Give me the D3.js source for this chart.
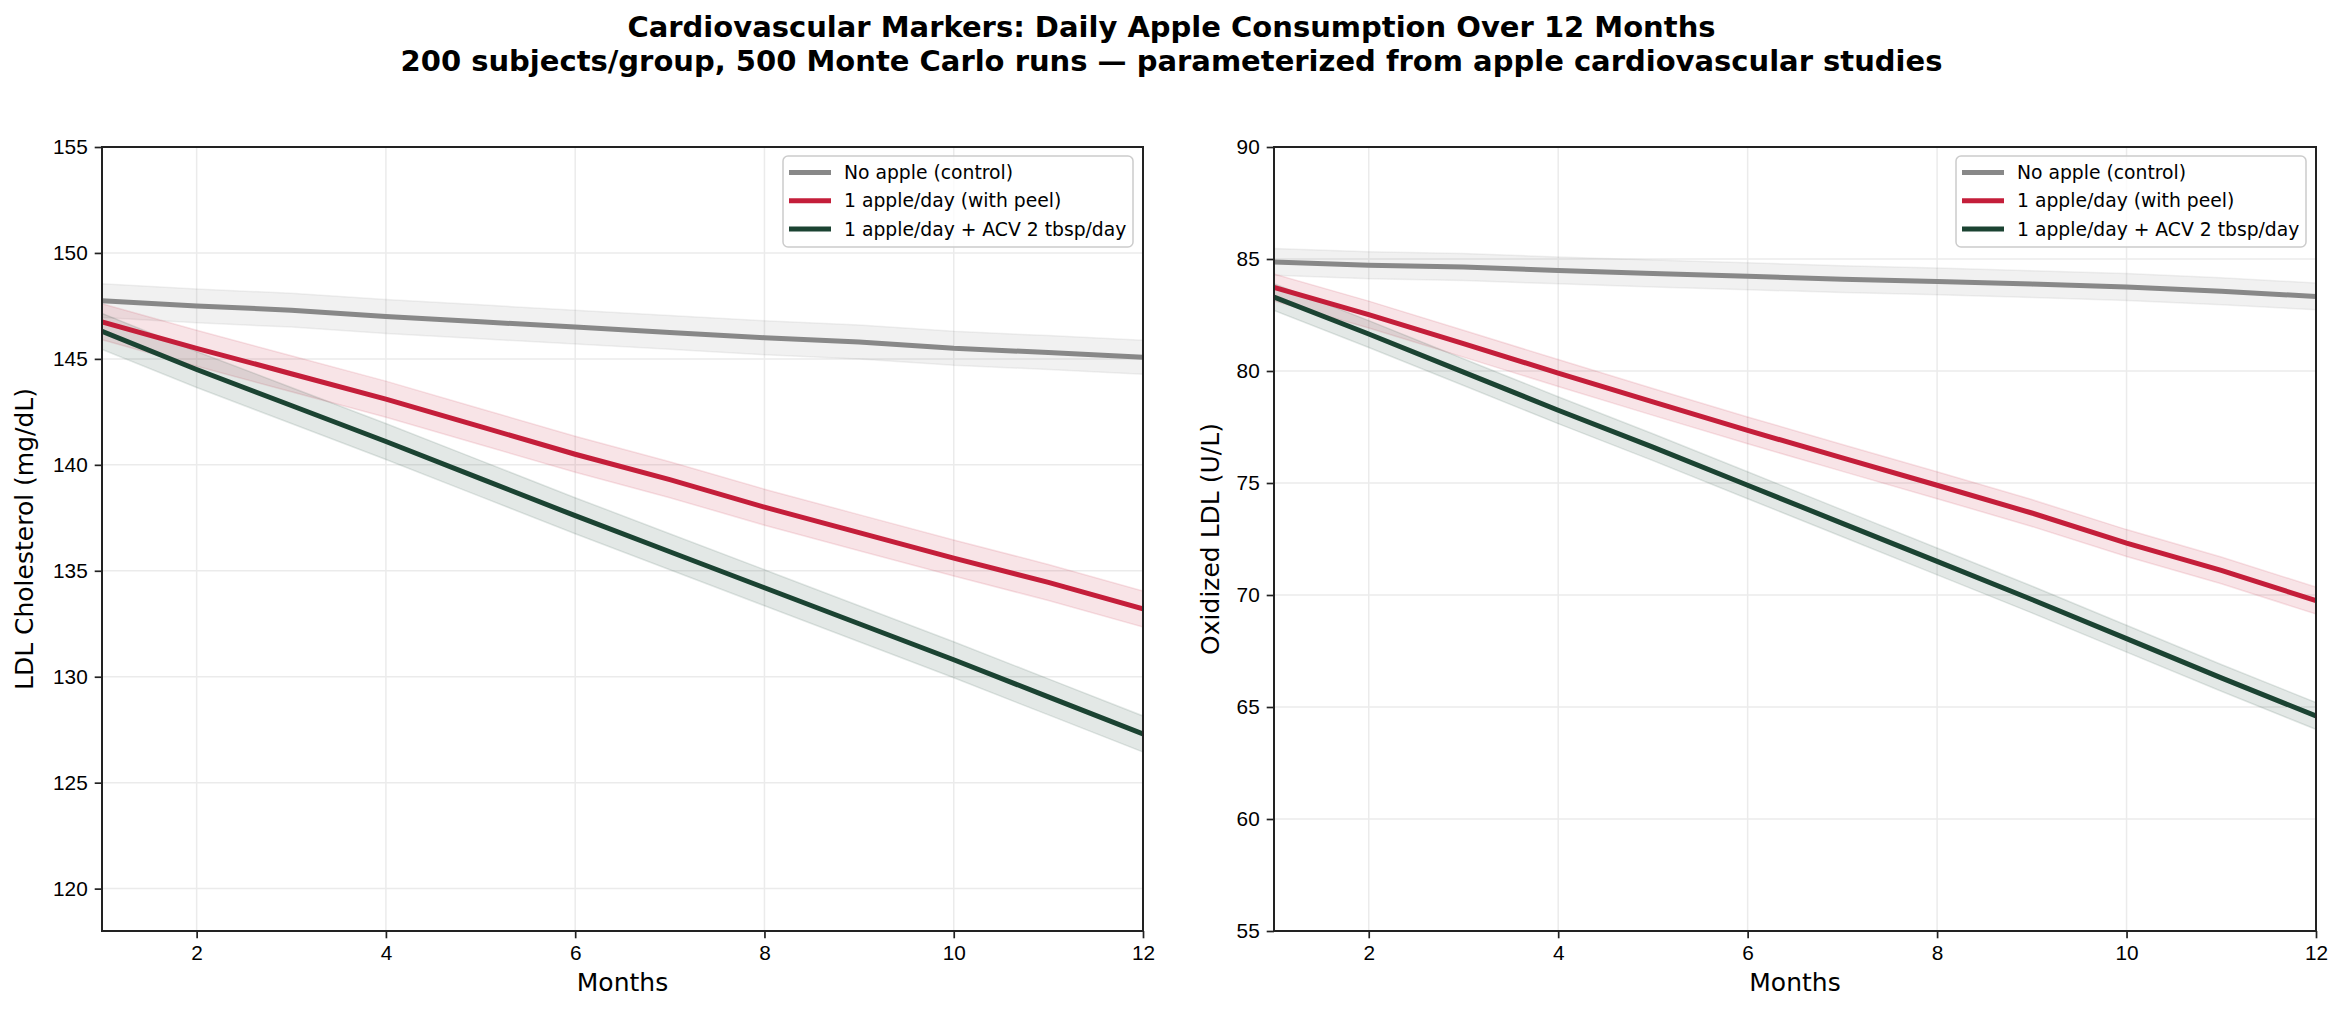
<!DOCTYPE html>
<html>
<head>
    <title>Cardiovascular Markers</title>
    <script src="https://d3js.org/d3.v7.min.js"></script>
    <style>
        body { margin: 0; background: #fff; }
        svg { font-family: 'DejaVu Sans', sans-serif; }
        .tick text { font-size: 20.8px; fill: #000; }
        .axis-label { font-size: 25px; fill: #000; }
        .title { font-size: 29px; font-weight: bold; fill: #000; }
        .legend-text { font-size: 18.75px; fill: #000; }
    </style>
</head>
<body>
<svg id="chart" width="2343" height="1013"></svg>

<script>
    // months of follow-up
    const months = [1, 2, 3, 4, 5, 6, 7, 8, 9, 10, 11, 12];

    const seriesNames = ["No apple (control)", "1 apple/day (with peel)", "1 apple/day + ACV 2 tbsp/day"];
    const seriesColors = ["#888888", "#c41e3a", "#1b4332"];

    // LDL cholesterol (mg/dL), mean and CI half-width per month
    const ldlControl = [147.75, 147.5, 147.3, 147.0, 146.75, 146.5, 146.25, 146.0, 145.8, 145.5, 145.3, 145.08];
    const ldlApple   = [146.75, 145.5, 144.3, 143.1, 141.8, 140.5, 139.3, 138.0, 136.8, 135.6, 134.45, 133.2];
    const ldlAcv     = [146.3, 144.5, 142.8, 141.1, 139.35, 137.6, 135.9, 134.2, 132.5, 130.8, 129.05, 127.3];
    const ldlControlCi = [0.8, 0.8, 0.8, 0.8, 0.8, 0.8, 0.8, 0.8, 0.8, 0.8, 0.8, 0.8];
    const ldlAppleCi   = [0.85, 0.85, 0.85, 0.85, 0.85, 0.85, 0.85, 0.85, 0.85, 0.85, 0.85, 0.85];
    const ldlAcvCi     = [0.85, 0.85, 0.85, 0.85, 0.85, 0.85, 0.85, 0.85, 0.85, 0.85, 0.85, 0.85];

    // Oxidized LDL (U/L)
    const oxControl = [84.87, 84.72, 84.64, 84.49, 84.35, 84.23, 84.1, 84.0, 83.88, 83.75, 83.56, 83.33];
    const oxApple   = [83.73, 82.52, 81.22, 79.91, 78.62, 77.35, 76.12, 74.9, 73.66, 72.32, 71.1, 69.75];
    const oxAcv     = [83.3, 81.65, 79.95, 78.25, 76.6, 74.9, 73.2, 71.5, 69.8, 68.05, 66.3, 64.6];
    const oxControlCi = [0.6, 0.6, 0.6, 0.6, 0.6, 0.6, 0.6, 0.6, 0.6, 0.6, 0.6, 0.6];
    const oxAppleCi   = [0.6, 0.6, 0.6, 0.6, 0.6, 0.6, 0.6, 0.6, 0.6, 0.6, 0.6, 0.6];
    const oxAcvCi     = [0.6, 0.6, 0.6, 0.6, 0.6, 0.6, 0.6, 0.6, 0.6, 0.6, 0.6, 0.6];

    const xTicks = [2, 4, 6, 8, 10, 12];
    const ldlTicks = [120, 125, 130, 135, 140, 145, 150, 155];
    const oxTicks = [55, 60, 65, 70, 75, 80, 85, 90];

    const svg = d3.select("#chart");

    svg.append("text").attr("class", "title")
        .attr("x", 1171.5).attr("y", 37).attr("text-anchor", "middle")
        .text("Cardiovascular Markers: Daily Apple Consumption Over 12 Months");
    svg.append("text").attr("class", "title")
        .attr("x", 1171.5).attr("y", 71).attr("text-anchor", "middle")
        .text("200 subjects/group, 500 Monte Carlo runs \u2014 parameterized from apple cardiovascular studies");

    function drawPanel(id, left, right, yDomain, yTicks, yLabel, labelX, means, cis) {
        const top = 147, bottom = 931;
        const x = d3.scaleLinear().domain([1, 12]).range([left, right]);
        const y = d3.scaleLinear().domain(yDomain).range([bottom, top]);
        const g = svg.append("g");

        g.append("clipPath").attr("id", "clip-" + id)
            .append("rect").attr("x", left).attr("y", top)
            .attr("width", right - left).attr("height", bottom - top);

        // grid
        g.append("g").selectAll("line").data(xTicks).join("line")
            .attr("x1", d => x(d)).attr("x2", d => x(d))
            .attr("y1", top).attr("y2", bottom)
            .attr("stroke", "#ebebeb").attr("stroke-width", 1.5);
        g.append("g").selectAll("line").data(yTicks).join("line")
            .attr("x1", left).attr("x2", right)
            .attr("y1", d => y(d)).attr("y2", d => y(d))
            .attr("stroke", "#ebebeb").attr("stroke-width", 1.5);

        const plot = g.append("g").attr("clip-path", `url(#clip-${id})`);

        means.forEach((vals, i) => {
            const rows = months.map((m, j) => ({ m: m, v: vals[j], ci: cis[i][j] }));
            const area = d3.area().x(d => x(d.m)).y0(d => y(d.v - d.ci)).y1(d => y(d.v + d.ci));
            plot.append("path").datum(rows)
                .attr("d", area)
                .attr("fill", seriesColors[i]).attr("fill-opacity", 0.12)
                .attr("stroke", seriesColors[i]).attr("stroke-opacity", 0.12).attr("stroke-width", 1.5);
        });
        means.forEach((vals, i) => {
            const line = d3.line().x((d, j) => x(months[j])).y(d => y(d));
            plot.append("path").datum(vals)
                .attr("d", line)
                .attr("fill", "none")
                .attr("stroke", seriesColors[i]).attr("stroke-width", 5);
        });

        // axes
        const xAxis = g.append("g").attr("transform", `translate(0,${bottom})`)
            .call(d3.axisBottom(x).tickValues(xTicks).tickSize(7.3).tickPadding(7));
        const yAxis = g.append("g").attr("transform", `translate(${left},0)`)
            .call(d3.axisLeft(y).tickValues(yTicks).tickSize(7.3).tickPadding(7));
        [xAxis, yAxis].forEach(a => {
            a.select(".domain").remove();
            a.selectAll(".tick line").attr("stroke", "#222").attr("stroke-width", 1.7);
        });

        g.append("rect").attr("x", left).attr("y", top)
            .attr("width", right - left).attr("height", bottom - top)
            .attr("fill", "none").attr("stroke", "#222").attr("stroke-width", 2);

        g.append("text").attr("class", "axis-label")
            .attr("x", (left + right) / 2).attr("y", 991).attr("text-anchor", "middle")
            .text("Months");
        g.append("text").attr("class", "axis-label")
            .attr("transform", `translate(${labelX},${(top + bottom) / 2}) rotate(-90)`)
            .attr("text-anchor", "middle")
            .text(yLabel);

        // legend
        const lw = 350, lh = 91;
        const lx = right - 10 - lw, ly = top + 9;
        const legend = g.append("g");
        legend.append("rect").attr("x", lx).attr("y", ly).attr("width", lw).attr("height", lh)
            .attr("rx", 5).attr("fill", "#fff").attr("fill-opacity", 0.8)
            .attr("stroke", "#cccccc").attr("stroke-width", 1.5);
        seriesNames.forEach((name, i) => {
            const cy = ly + 16.5 + i * 28.3;
            legend.append("line").attr("x1", lx + 6).attr("x2", lx + 48)
                .attr("y1", cy).attr("y2", cy)
                .attr("stroke", seriesColors[i]).attr("stroke-width", 5);
            legend.append("text").attr("class", "legend-text")
                .attr("x", lx + 61).attr("y", cy).attr("dy", "0.35em")
                .text(name);
        });
    }

    drawPanel("ldl", 102, 1143, [118, 155], ldlTicks, "LDL Cholesterol (mg/dL)", 33,
        [ldlControl, ldlApple, ldlAcv], [ldlControlCi, ldlAppleCi, ldlAcvCi]);
    drawPanel("ox", 1274, 2316, [55, 90], oxTicks, "Oxidized LDL (U/L)", 1219,
        [oxControl, oxApple, oxAcv], [oxControlCi, oxAppleCi, oxAcvCi]);
</script>
</body>
</html>
